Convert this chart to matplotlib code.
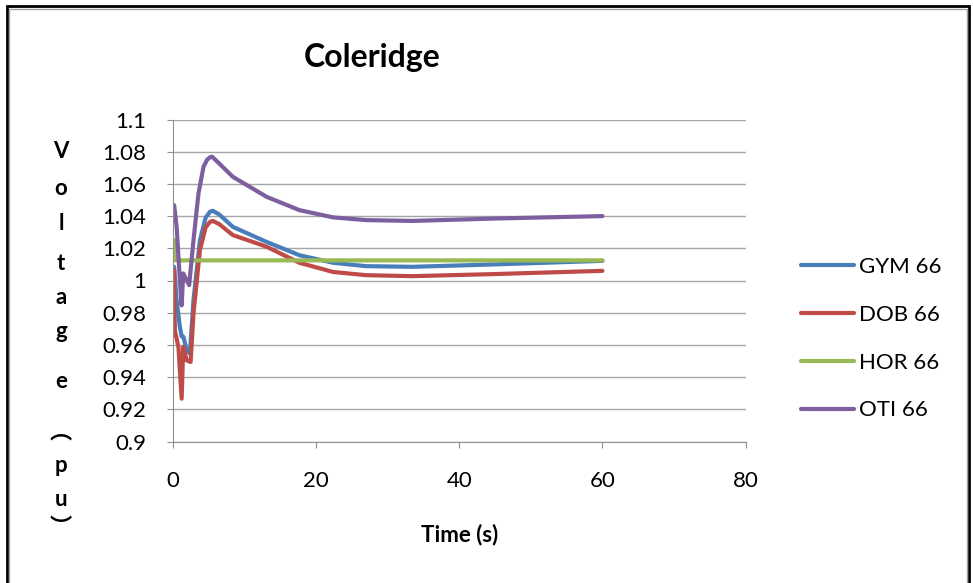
import numpy as np
import matplotlib
matplotlib.use("Agg")
import matplotlib.pyplot as plt
from matplotlib.patches import Rectangle

# time (s) and per-unit voltage
t_gym = [0.2, 0.55, 1.0, 1.25, 1.5, 1.95, 2.4, 2.9, 3.8, 4.6, 5.2, 5.6, 6.5, 8.4, 13.1, 17.7, 22.4, 27.0, 33.5, 45.0, 60.0]
v_gym = [1.0085, 0.9878, 0.9711, 0.9653, 0.9650, 0.9567, 0.9546, 0.9878, 1.0250, 1.0390, 1.0427, 1.0433,
         1.0410, 1.0333, 1.0240, 1.0157, 1.0110, 1.0089, 1.0085, 1.0100, 1.0122]

t_dob = [0.2, 0.3, 0.8, 1.25, 1.47, 1.95, 2.5, 2.9, 3.8, 4.6, 5.2, 5.6, 6.5, 8.4, 13.1, 17.7, 22.4, 27.0, 33.5, 45.0, 60.0]
v_dob = [1.0064, 0.9690, 0.9587, 0.9266, 0.9587, 0.9504, 0.9494, 0.9795, 1.0188, 1.0330, 1.0364, 1.0370,
         1.0350, 1.0282, 1.0210, 1.0110, 1.0053, 1.0033, 1.0027, 1.0040, 1.0060]

t_hor = [0.2, 0.35, 1.0, 10.0, 30.0, 60.0]
v_hor = [1.0250, 1.0126, 1.0125, 1.0125, 1.0125, 1.0125]

t_oti = [0.2, 0.55, 1.0, 1.25, 1.47, 1.95, 2.3, 2.9, 3.6, 4.3, 4.8, 5.2, 5.5, 6.3, 8.4, 13.1, 17.7, 22.4, 27.0, 33.5, 45.0, 60.0]
v_oti = [1.0468, 1.0333, 1.0002, 0.9846, 1.0044, 1.0002, 0.9971, 1.0250, 1.0540, 1.0706, 1.0750, 1.0765,
         1.0769, 1.0735, 1.0644, 1.0520, 1.0437, 1.0392, 1.0375, 1.0370, 1.0385, 1.0400]

names = ["GYM 66", "DOB 66", "HOR 66", "OTI 66"]
colors = ["#4a7ebb", "#be4b48", "#98b954", "#7d5fa0"]

yticks = [0.9, 0.92, 0.94, 0.96, 0.98, 1.0, 1.02, 1.04, 1.06, 1.08, 1.1]
ytick_labels = ["0.9", "0.92", "0.94", "0.96", "0.98", "1", "1.02", "1.04", "1.06", "1.08", "1.1"]
xticks = [0, 20, 40, 60, 80]

W, H = 973, 583
FS = 16
plt.rcParams['font.family'] = ['Lato', 'DejaVu Sans']
fig = plt.figure(figsize=(W / 100, H / 100), dpi=100)
ax = fig.add_axes([172.7 / W, 1 - 441.5 / H, (745.7 - 172.7) / W, (441.5 - 119.5) / H])

series = [(t_gym, v_gym), (t_dob, v_dob), (t_hor, v_hor), (t_oti, v_oti)]
for (t, v), name, c in zip(series, names, colors):
    ax.plot(t, v, color=c, lw=3, label=name, solid_capstyle='round', solid_joinstyle='round')

ax.set_xlim(0, 80)
ax.set_ylim(0.9, 1.1)
ax.set_xticks(xticks)
ax.set_yticks(yticks)
ax.set_yticklabels(ytick_labels)
ax.yaxis.grid(True, color='#a6a6a6', lw=1)
ax.set_axisbelow(True)
for s in ['top', 'right']:
    ax.spines[s].set_visible(False)
for s in ['left', 'bottom']:
    ax.spines[s].set_color('#909090')
ax.tick_params(axis='both', direction='out', color='#909090', length=4, labelsize=FS)
ax.tick_params(axis='y', pad=15)
ax.tick_params(axis='x', pad=17)

ax.set_xlabel("Time (s)", fontsize=FS, fontweight='bold', labelpad=24)

fig.text(372 / W, 1 - 67 / H, "Coleridge", fontsize=23, fontweight='bold', ha='center', va='baseline')

# stacked vertical y-axis title
ylab = ["V", "o", "l", "t", "a", "g", "e", "\ufe35", "p", "u", "\ufe36"]
ypos = [152, 188, 224, 264, 298, 332, 382, 432, 466, 500, 528]
for ch, yp in zip(ylab, ypos):
    fig.text(61 / W, 1 - yp / H, ch, fontsize=FS, fontweight='bold', ha='center', va='center',
             family=['Lato', 'Noto Sans CJK SC', 'DejaVu Sans'])

leg = fig.legend(loc='upper left', bbox_to_anchor=(781 / W, 1 - 237 / H), frameon=False,
                 fontsize=FS, handlelength=2.4, handletextpad=0.2, labelspacing=1.25)
for h in leg.get_lines():
    h.set_linewidth(3)

# outer border of the chart
fig.patches.append(Rectangle((7 / W, -0.05), (969 - 7) / W, 1.05 - 6 / H, transform=fig.transFigure,
                             fill=False, ec='black', lw=2))
fig.patches.append(Rectangle((9 / W, -0.05), (967 - 9) / W, 1.05 - 8.5 / H, transform=fig.transFigure,
                             fill=False, ec='#a0a0a0', lw=1))

fig.savefig("out.png", dpi=100)
